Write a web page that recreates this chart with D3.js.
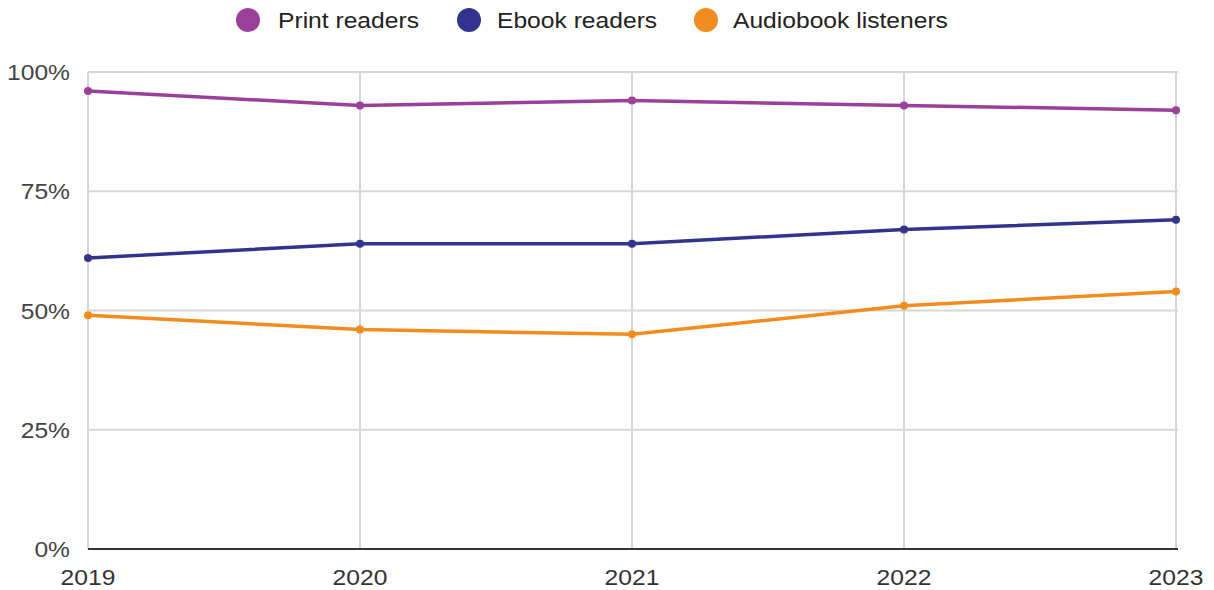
<!DOCTYPE html>
<html>
<head>
<meta charset="utf-8">
<script src="https://cdn.jsdelivr.net/npm/d3@7"></script>
<style>
  html, body { margin: 0; padding: 0; background: #fff; }
  svg { display: block; font-family: "Liberation Sans", Arial, sans-serif; }
</style>
</head>
<body>
<svg id="chart" width="1214" height="590"></svg>
<script>
// Share of readers by format, 2019–2023
const years = ["2019", "2020", "2021", "2022", "2023"];
const printReaders = [96, 93, 94, 93, 92];
const ebookReaders = [61, 64, 64, 67, 69];
const audiobookListeners = [49, 46, 45, 51, 54];
const yTicks = [0, 25, 50, 75, 100];

const series = [
  { name: "Print readers", values: printReaders, color: "#9a3f9a" },
  { name: "Ebook readers", values: ebookReaders, color: "#32338f" },
  { name: "Audiobook listeners", values: audiobookListeners, color: "#f28c1f" }
];

const svg = d3.select("#chart");
const margin = { left: 88, right: 1176, top: 72, bottom: 549 };
const fontSize = 22;
const stretch = 1.12; // slightly wide lettering

const x = d3.scalePoint().domain(years).range([margin.left, margin.right]);
const y = d3.scaleLinear().domain([0, 100]).range([margin.bottom, margin.top]);

// Places a text at (tx, ty) with horizontal widening
function label(sel, tx, ty) {
  return sel.attr("transform", (d, i) =>
    `translate(${tx(d, i)},${ty(d, i)}) scale(${stretch},1)`);
}

// Horizontal gridlines
svg.append("g")
  .selectAll("line")
  .data(yTicks.filter(d => d > 0))
  .join("line")
  .attr("x1", margin.left).attr("x2", margin.right + 2)
  .attr("y1", d => y(d)).attr("y2", d => y(d))
  .attr("stroke", "#d6d6d6").attr("stroke-width", 2);

// Vertical gridlines
svg.append("g")
  .selectAll("line")
  .data(years)
  .join("line")
  .attr("x1", d => x(d)).attr("x2", d => x(d))
  .attr("y1", margin.top).attr("y2", margin.bottom)
  .attr("stroke", "#d6d6d6").attr("stroke-width", 2);

// Baseline
svg.append("line")
  .attr("x1", margin.left).attr("x2", margin.right + 2)
  .attr("y1", y(0)).attr("y2", y(0))
  .attr("stroke", "#333").attr("stroke-width", 2);

// Y axis labels
label(svg.append("g")
  .selectAll("text")
  .data(yTicks)
  .join("text")
  .attr("text-anchor", "end")
  .attr("font-size", fontSize)
  .attr("fill", "#444")
  .text(d => d + "%"), () => 70, d => y(d) + 8);

// X axis labels
label(svg.append("g")
  .selectAll("text")
  .data(years)
  .join("text")
  .attr("text-anchor", "middle")
  .attr("font-size", fontSize)
  .attr("fill", "#333")
  .text(d => d), d => x(d), () => 585);

// Lines and points
const line = d3.line()
  .x((d, i) => x(years[i]))
  .y(d => y(d));

series.forEach(s => {
  svg.append("path")
    .datum(s.values)
    .attr("d", line)
    .attr("fill", "none")
    .attr("stroke", s.color)
    .attr("stroke-width", 3.5)
    .attr("stroke-linejoin", "round");
  svg.append("g")
    .selectAll("circle")
    .data(s.values)
    .join("circle")
    .attr("cx", (d, i) => x(years[i]))
    .attr("cy", d => y(d))
    .attr("r", 4)
    .attr("fill", s.color);
});

// Legend
const legendPos = [
  { cx: 248, tx: 278 },
  { cx: 469, tx: 497 },
  { cx: 706, tx: 733 }
];
const legend = svg.append("g");
series.forEach((s, i) => {
  legend.append("ellipse")
    .attr("cx", legendPos[i].cx).attr("cy", 20).attr("rx", 12).attr("ry", 12)
    .attr("fill", s.color);
  legend.append("text")
    .attr("transform", `translate(${legendPos[i].tx},28) scale(${stretch},1)`)
    .attr("font-size", fontSize)
    .attr("fill", "#222")
    .text(s.name);
});
</script>
</body>
</html>
